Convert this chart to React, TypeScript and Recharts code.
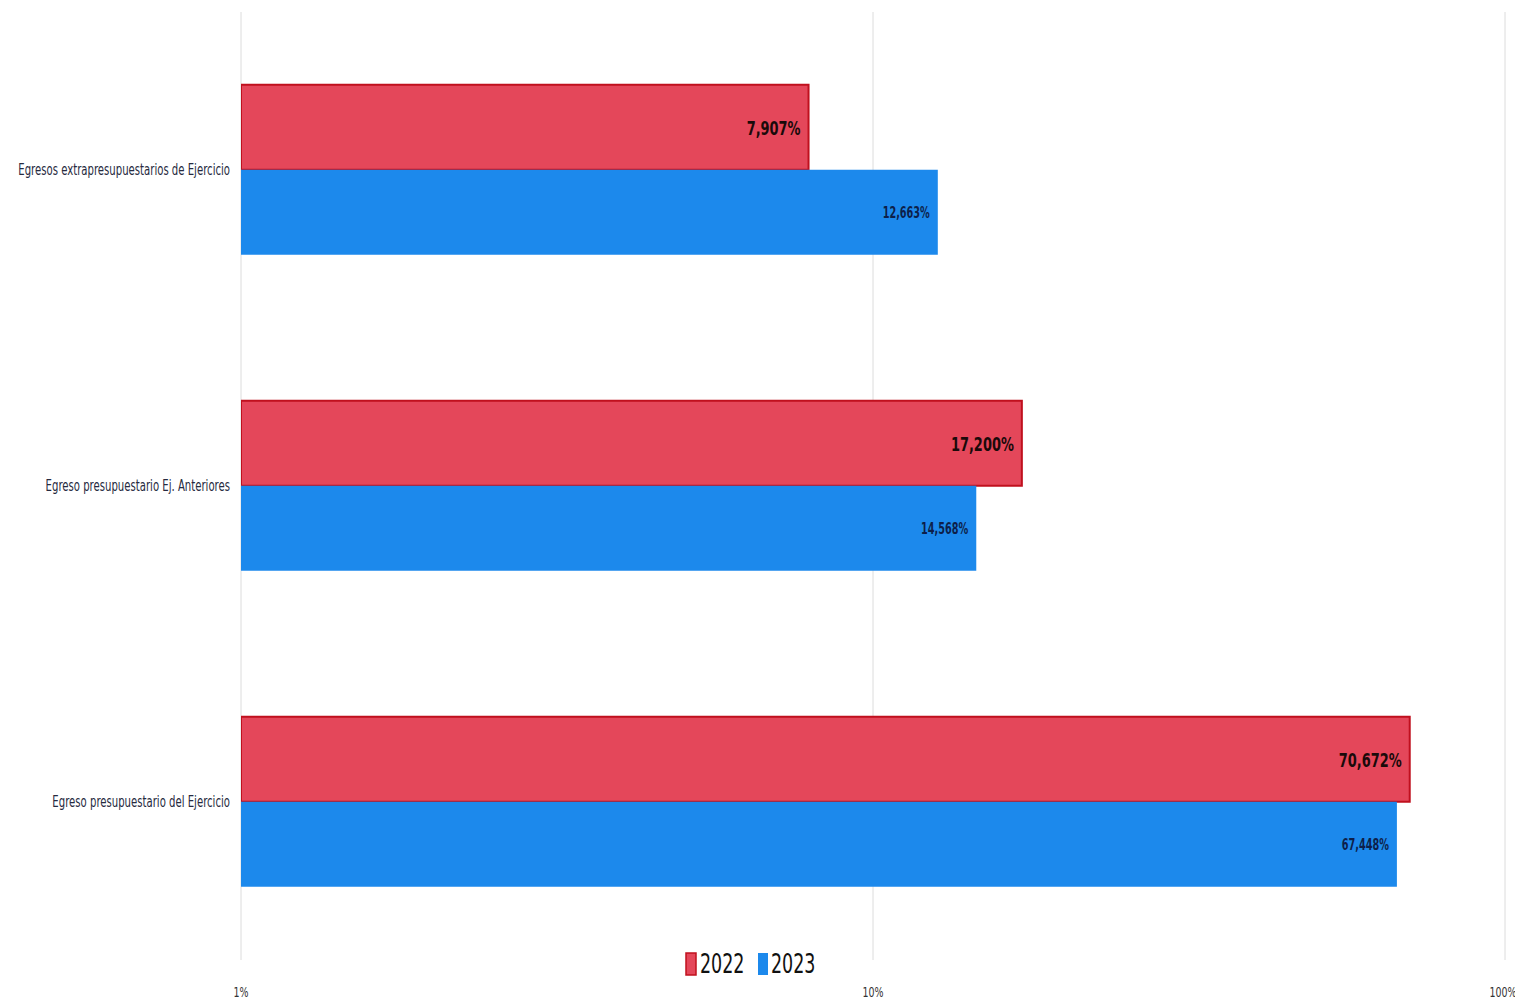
import { BarChart, Bar, XAxis, YAxis, CartesianGrid, LabelList } from 'recharts';

const categories = [
  'Egresos extrapresupuestarios de Ejercicio',
  'Egreso presupuestario Ej. Anteriores',
  'Egreso presupuestario del Ejercicio'
];
const values2022 = [7.907, 17.2, 70.672];
const values2023 = [12.663, 14.568, 67.448];
const xTicks = [1, 10, 100];
const seriesNames = ['2022', '2023'];

const RED = '#E4475A';
const RED_BORDER = '#C0101E';
const BLUE = '#1C89EC';
const FONT = '"DejaVu Sans Condensed", "Liberation Sans Narrow", sans-serif';

const data = categories.map((name, i) => ({
  name,
  y2022: values2022[i],
  y2023: values2023[i]
}));

const fmt = (v: any) => `${Number(v).toFixed(3).replace('.', ',')}%`;

// narrow text by squeezing horizontally (no true condensed font installed)
const Squeezed = ({ x, y, anchor, size, fill, bold, sx, children }: any) => (
  <g transform={`translate(${x},${y}) scale(${sx},1)`}>
    <text
      x={0}
      y={0}
      textAnchor={anchor}
      dominantBaseline="central"
      fontFamily={FONT}
      fontSize={size}
      fontWeight={bold ? 'bold' : 'normal'}
      fill={fill}
    >
      {children}
    </text>
  </g>
);

const CategoryTick = ({ x, y, payload }: any) => (
  <Squeezed x={x + 5} y={y} anchor="end" size={15} fill="#262a40" sx={0.75}>
    {payload.value}
  </Squeezed>
);

const XTick = ({ x, y, payload }: any) => (
  <Squeezed x={x} y={y + 24} anchor="middle" size={14} fill="#333" sx={0.75}>
    {`${payload.value}%`}
  </Squeezed>
);

const makeLabel = (size: number, fill: string) => (props: any) => {
  const { x, y, width, height, value } = props;
  return (
    <Squeezed x={x + width - 8} y={y + height / 2 + 1} anchor="end" size={size} fill={fill} bold sx={0.72}>
      {fmt(value)}
    </Squeezed>
  );
};

const Legend = () => (
  <svg width={1515} height={60} style={{ position: 'absolute', left: 0, top: 935 }}>
    <rect x={686} y={18} width={10} height={22} fill={RED} stroke={RED_BORDER} strokeWidth={1.5} />
    <Squeezed x={700} y={29} anchor="start" size={27} fill="#111" sx={0.72}>
      {seriesNames[0]}
    </Squeezed>
    <rect x={758} y={18} width={10} height={22} fill={BLUE} />
    <Squeezed x={771} y={29} anchor="start" size={27} fill="#111" sx={0.72}>
      {seriesNames[1]}
    </Squeezed>
  </svg>
);

export default function App() {
  return (
    <div style={{ position: 'absolute', left: 0, top: 0, width: 1515, height: 1004, background: '#fff' }}>
      <BarChart
        width={1515}
        height={1004}
        data={data}
        layout="vertical"
        margin={{ top: 12, right: 10, left: 0, bottom: 0 }}
        barCategoryGap="23%"
        barGap={0}
      >
        <CartesianGrid horizontal={false} stroke="#dcdcdc" />
        <XAxis
          type="number"
          scale="log"
          domain={[1, 100]}
          ticks={xTicks}
          allowDataOverflow
          axisLine={false}
          tickLine={false}
          height={44}
          tick={<XTick />}
        />
        <YAxis
          type="category"
          dataKey="name"
          width={241}
          axisLine={false}
          tickLine={false}
          tick={<CategoryTick />}
          tickMargin={10}
        />
        <Bar dataKey="y2022" name={seriesNames[0]} fill={RED} stroke={RED_BORDER} strokeWidth={2} isAnimationActive={false}>
          <LabelList dataKey="y2022" content={makeLabel(20, '#1a0a0a')} />
        </Bar>
        <Bar dataKey="y2023" name={seriesNames[1]} fill={BLUE} isAnimationActive={false}>
          <LabelList dataKey="y2023" content={makeLabel(15, '#0d1f4a')} />
        </Bar>
      </BarChart>
      <Legend />
    </div>
  );
}
